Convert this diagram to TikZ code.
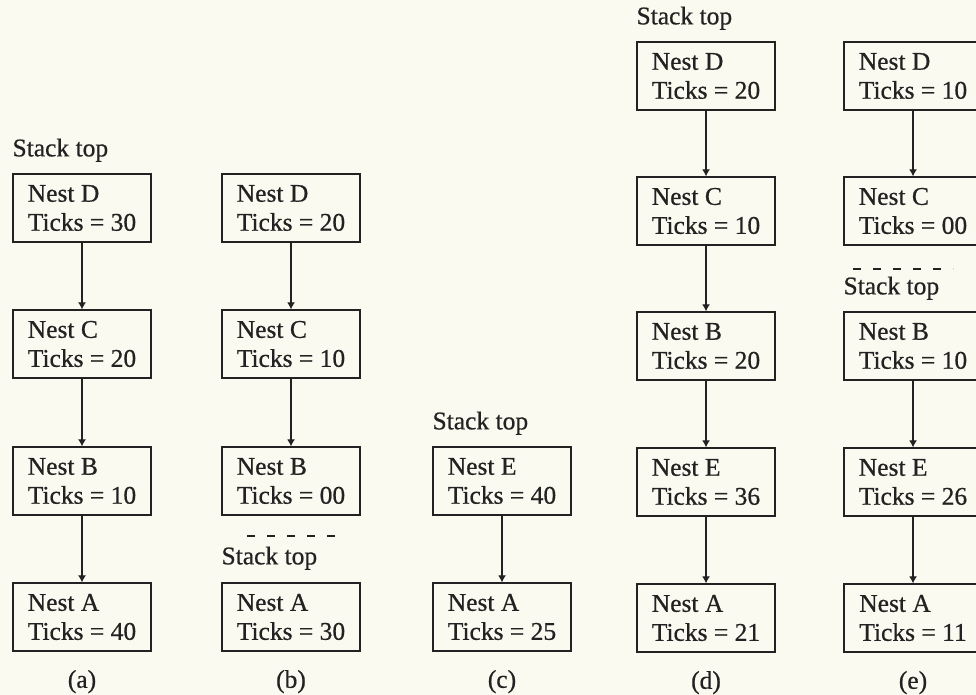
\documentclass[tikz,border=0pt]{standalone}
\usepackage{fontspec}
\setmainfont{Liberation Serif}
\newfontface\inkface{Liberation Serif}[FakeBold=0.6]
\usetikzlibrary{arrows.meta}
\definecolor{paper}{HTML}{FBFAF0}
\definecolor{ink}{HTML}{222222}
\begin{document}
\begin{tikzpicture}[x=1pt,y=-1pt,
  every node/.style={font=\inkface\fontsize{25.5}{29}\selectfont, text=ink},
  nest/.style={draw=ink, line width=1.3pt, rectangle, minimum width=138pt,
    minimum height=68pt, inner sep=0pt, align=left},
  toplabel/.style={anchor=base west, inner sep=0pt},
  caption/.style={inner sep=0pt},
  link/.style={draw=ink, line width=1.2pt, -{Latex[length=7pt,width=8pt]}},
  sep/.style={draw=ink, line width=2pt, dash pattern=on 8pt off 12pt}]

% paper and page size
\fill[paper] (0,0) rectangle (976,695);
\useasboundingbox (0,0) rectangle (976,695);

% (a)
\node[nest] (aD) at (82,208) {Nest D\\Ticks = 30};
\node[nest] (aC) at (82,344) {Nest C\\Ticks = 20};
\node[nest] (aB) at (82,481) {Nest B\\Ticks = 10};
\node[nest] (aA) at (82,617) {Nest A\\Ticks = 40};
\draw[link] (aD) -- (aC);
\draw[link] (aC) -- (aB);
\draw[link] (aB) -- (aA);
\node[toplabel] at ([yshift=17pt]aD.north west) {Stack top};
\node[caption] (capa) at ([yshift=-30pt]aA.south) {(a)};

% (b)
\node[nest] (bD) at (291,208) {Nest D\\Ticks = 20};
\node[nest] (bC) at (291,344) {Nest C\\Ticks = 10};
\node[nest] (bB) at (291,481) {Nest B\\Ticks = 00};
\node[nest] (bA) at (291,617) {Nest A\\Ticks = 30};
\draw[link] (bD) -- (bC);
\draw[link] (bC) -- (bB);
\node[toplabel] at ([yshift=18pt]bA.north west) {Stack top};
\coordinate (bs1) at ([xshift=26pt,yshift=46pt]bA.north west);
\coordinate (bs2) at ([xshift=114pt,yshift=46pt]bA.north west);
\draw[sep] (bs1) -- (bs2);
\node[caption] (capb) at ([yshift=-30pt]bA.south) {(b)};

% (c)
\node[nest] (cE) at (502,481) {Nest E\\Ticks = 40};
\node[nest] (cA) at (502,617) {Nest A\\Ticks = 25};
\draw[link] (cE) -- (cA);
\node[toplabel] at ([yshift=17pt]cE.north west) {Stack top};
\node[caption] (capc) at ([yshift=-30pt]cA.south) {(c)};

% (d)
\node[nest] (dD) at (706,76)  {Nest D\\Ticks = 20};
\node[nest] (dC) at (706,211) {Nest C\\Ticks = 10};
\node[nest] (dB) at (706,346) {Nest B\\Ticks = 20};
\node[nest] (dE) at (706,482) {Nest E\\Ticks = 36};
\node[nest] (dA) at (706,618) {Nest A\\Ticks = 21};
\draw[link] (dD) -- (dC);
\draw[link] (dC) -- (dB);
\draw[link] (dB) -- (dE);
\draw[link] (dE) -- (dA);
\node[toplabel] at ([yshift=17pt]dD.north west) {Stack top};
\node[caption] (capd) at ([yshift=-30pt]dA.south) {(d)};

% (e)
\node[nest] (eD) at (913,76)  {Nest D\\Ticks = 10};
\node[nest] (eC) at (913,211) {Nest C\\Ticks = 00};
\node[nest] (eB) at (913,346) {Nest B\\Ticks = 10};
\node[nest] (eE) at (913,482) {Nest E\\Ticks = 26};
\node[nest] (eA) at (913,618) {Nest A\\Ticks = 11};
\draw[link] (eD) -- (eC);
\draw[link] (eB) -- (eE);
\draw[link] (eE) -- (eA);
\node[toplabel] at ([yshift=17pt]eB.north west) {Stack top};
\coordinate (es1) at ([xshift=10pt,yshift=42pt]eB.north west);
\coordinate (es2) at ([xshift=110pt,yshift=42pt]eB.north west);
\draw[sep] (es1) -- (es2);
\node[caption] (cape) at ([yshift=-30pt]eA.south) {(e)};
\end{tikzpicture}
\end{document}
